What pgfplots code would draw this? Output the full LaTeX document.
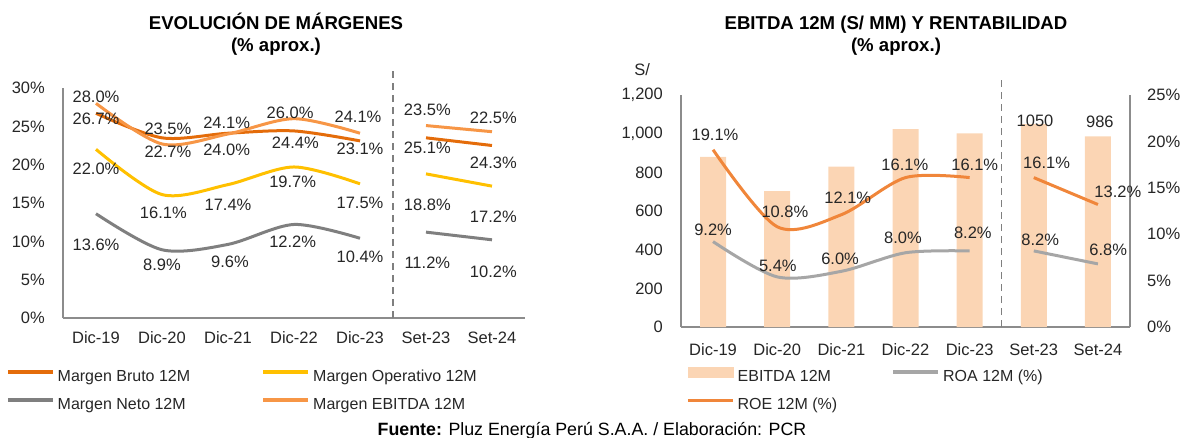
\documentclass[border=0pt]{standalone}
\usepackage{fontspec}
\setmainfont{Liberation Sans}
\usepackage{pgfplots}
\pgfplotsset{compat=1.18}
\definecolor{bruto}{HTML}{E46C0A}
\definecolor{oper}{HTML}{FFC000}
\definecolor{neto}{HTML}{7F7F7F}
\definecolor{ebit}{HTML}{F79646}
\definecolor{roe}{HTML}{F0863A}
\definecolor{roa}{HTML}{A6A6A6}
\definecolor{barc}{HTML}{FBD5B4}
\definecolor{axisgray}{HTML}{8C8C8C}
\definecolor{dashgray}{HTML}{7F7F7F}
\definecolor{txt}{HTML}{262626}
\tikzset{lab/.style={font=\fontsize{16.5}{19}\selectfont, text=txt, inner sep=0pt}}
\begin{document}
\begin{tikzpicture}
\useasboundingbox (0pt,0pt) rectangle (1186pt,437pt);
\pgfplotsset{
  base/.style={
    scale only axis, anchor=south west,
    xmin=-0.5, xmax=6.5,
    xtick={0,...,6},
    xticklabels={Dic-19,Dic-20,Dic-21,Dic-22,Dic-23,Set-23,Set-24},
    major tick length=0pt, tick style={draw=none},
    axis line style={-, draw=axisgray, line width=1.5pt},
    ticklabel style={font=\fontsize{16.5}{19}\selectfont, text=txt, inner sep=0pt},
    xticklabel style={anchor=base, yshift=-25pt},
    clip=false,
    legend cell align=left,
    legend columns=2,
    legend image code/.code={\draw[##1, line width=3.5pt] (0pt,4.5pt) -- (45pt,4.5pt);},
    /tikz/every odd column/.append style={column sep=3pt},
  },
}
% ---------------- Left chart ----------------
\begin{axis}[base, at={(63pt,119pt)}, width=462pt, height=230pt,
  ymin=0, ymax=30, ytick={0,5,...,30},
  yticklabels={0\%,5\%,10\%,15\%,20\%,25\%,30\%},
  axis x line*=bottom, axis y line*=left,
  yticklabel style={anchor=east, xshift=-18pt},
  legend style={draw=none, fill=none, at={(axis description cs:-0.1299,-0.217)}, anchor=north west,
    font=\fontsize{16}{19}\selectfont, text=txt, row sep=15pt, column sep=0pt, nodes={inner sep=0pt}},
]
\addplot[bruto, smooth, line width=3pt] coordinates {(0,26.7)(1,23.5)(2,24.1)(3,24.4)(4,23.1)};
\addlegendentry{\makebox[204pt][l]{Margen Bruto 12M}}
\addplot[oper, smooth, line width=3pt] coordinates {(0,22.0)(1,16.1)(2,17.4)(3,19.7)(4,17.5)};
\addlegendentry{Margen Operativo 12M}
\addplot[neto, smooth, line width=3pt] coordinates {(0,13.6)(1,8.9)(2,9.6)(3,12.2)(4,10.4)};
\addlegendentry{\makebox[204pt][l]{Margen Neto 12M}}
\addplot[ebit, smooth, line width=3pt] coordinates {(0,28.0)(1,22.7)(2,24.0)(3,26.0)(4,24.1)};
\addlegendentry{Margen EBITDA 12M}
\addplot[bruto, smooth, line width=3pt, forget plot] coordinates {(5,23.5)(6,22.5)};
\addplot[oper, smooth, line width=3pt, forget plot] coordinates {(5,18.8)(6,17.2)};
\addplot[neto, smooth, line width=3pt, forget plot] coordinates {(5,11.2)(6,10.2)};
\addplot[ebit, smooth, line width=3pt, forget plot] coordinates {(5,25.1)(6,24.3)};
\draw[dashgray, line width=1.5pt, dash pattern=on 7pt off 5pt] (axis cs:4.5,0) -- (axis cs:4.5,32.35);
% labels
\node[lab] at (axis cs:0,28.9) {28.0\%};
\node[lab] at (axis cs:0,26.0) {26.7\%};
\node[lab] at (axis cs:1.09,24.7) {23.5\%};
\node[lab] at (axis cs:1.09,21.7) {22.7\%};
\node[lab] at (axis cs:1.98,25.4) {24.1\%};
\node[lab] at (axis cs:1.98,21.9) {24.0\%};
\node[lab] at (axis cs:2.94,26.7) {26.0\%};
\node[lab] at (axis cs:3.02,22.8) {24.4\%};
\node[lab] at (axis cs:3.97,26.3) {24.1\%};
\node[lab] at (axis cs:4.0,22.1) {23.1\%};
\node[lab] at (axis cs:0,19.5) {22.0\%};
\node[lab] at (axis cs:1.02,13.7) {16.1\%};
\node[lab] at (axis cs:2.0,14.7) {17.4\%};
\node[lab] at (axis cs:2.98,17.8) {19.7\%};
\node[lab] at (axis cs:4.0,15.0) {17.5\%};
\node[lab] at (axis cs:0,9.5) {13.6\%};
\node[lab] at (axis cs:1.0,6.9) {8.9\%};
\node[lab] at (axis cs:2.03,7.3) {9.6\%};
\node[lab] at (axis cs:2.98,10.0) {12.2\%};
\node[lab] at (axis cs:4.0,8.0) {10.4\%};
\node[lab] at (axis cs:5.02,27.1) {23.5\%};
\node[lab] at (axis cs:5.02,22.2) {25.1\%};
\node[lab] at (axis cs:6.02,26.1) {22.5\%};
\node[lab] at (axis cs:6.02,20.2) {24.3\%};
\node[lab] at (axis cs:5.02,14.7) {18.8\%};
\node[lab] at (axis cs:6.02,13.2) {17.2\%};
\node[lab] at (axis cs:5.02,7.2) {11.2\%};
\node[lab] at (axis cs:6.02,6.0) {10.2\%};
\end{axis}
% ---------------- Right chart: bars ----------------
\begin{axis}[base, at={(681pt,110pt)}, width=449pt, height=232pt,
  ymin=0, ymax=1200, ytick={0,200,...,1200},
  yticklabels={0,200,400,600,800,{1,000},{1,200}},
  axis x line*=bottom, axis y line*=left,
  xticklabel style={yshift=-3pt},
  yticklabel style={anchor=east, xshift=-18pt},
  ybar, bar width=26pt,
]
\addplot[fill=barc, draw=none] coordinates {(0,880)(1,703)(2,829)(3,1023)(4,1002)(5,1050)(6,986)};
\node[lab] at (axis cs:-1.107,1329) {S/};
\end{axis}
% ---------------- Right chart: lines ----------------
\begin{axis}[base, at={(681pt,110pt)}, width=449pt, height=232pt,
  ymin=0, ymax=25, ytick={0,5,...,25},
  yticklabels={0\%,5\%,10\%,15\%,20\%,25\%},
  xtick=\empty,
  axis x line=none, axis y line*=right,
  yticklabel style={anchor=west, xshift=17pt},
  legend style={draw=none, fill=none, at={(axis description cs:0.0044,-0.163)}, anchor=north west,
    font=\fontsize{16}{19}\selectfont, text=txt, row sep=15pt, column sep=0pt, nodes={inner sep=0pt}},
]
\addlegendimage{legend image code/.code={\fill[barc] (0pt,-0.5pt) rectangle (45pt,9.5pt);}}
\addlegendentry{\makebox[154pt][l]{EBITDA 12M}}
\addplot[roa, smooth, line width=3pt] coordinates {(0,9.2)(1,5.4)(2,6.0)(3,8.0)(4,8.2)};
\addlegendentry{ROA 12M (\%)}
\addplot[roe, smooth, line width=3pt] coordinates {(0,19.1)(1,10.8)(2,12.1)(3,16.1)(4,16.1)};
\addlegendentry{ROE 12M (\%)}
\addplot[roa, smooth, line width=3pt, forget plot] coordinates {(5,8.2)(6,6.8)};
\addplot[roe, smooth, line width=3pt, forget plot] coordinates {(5,16.1)(6,13.2)};
\draw[dashgray, line width=1.5pt, dash pattern=on 7pt off 5pt] (axis cs:4.5,0) -- (axis cs:4.5,26.6);
\node[lab] at (axis cs:0.03,20.7) {19.1\%};
\node[lab] at (axis cs:1.12,12.4) {10.8\%};
\node[lab] at (axis cs:2.1,13.9) {12.1\%};
\node[lab] at (axis cs:0,10.45) {9.2\%};
\node[lab] at (axis cs:1.01,6.6) {5.4\%};
\node[lab] at (axis cs:1.98,7.3) {6.0\%};
\node[lab] at (axis cs:2.99,17.5) {16.1\%};
\node[lab] at (axis cs:4.08,17.5) {16.1\%};
\node[lab] at (axis cs:5.2,17.7) {16.1\%};
\node[lab] at (axis cs:6.31,14.6) {13.2\%};
\node[lab] at (axis cs:2.96,9.6) {8.0\%};
\node[lab] at (axis cs:4.05,10.1) {8.2\%};
\node[lab] at (axis cs:5.1,9.4) {8.2\%};
\node[lab] at (axis cs:6.16,8.3) {6.8\%};
\node[lab] at (axis cs:5.02,22.2) {1050};
\node[lab] at (axis cs:6.03,22.1) {986};
\end{axis}
% ---------------- Titles & footer ----------------
\node[anchor=base, font=\bfseries\fontsize{18.6}{21}\selectfont, text=black, inner sep=0pt] at (276pt,407pt) {EVOLUCIÓN DE MÁRGENES};
\node[anchor=base, font=\bfseries\fontsize{18.6}{21}\selectfont, text=black, inner sep=0pt] at (276pt,385pt) {(\% aprox.)};
\node[anchor=base, font=\bfseries\fontsize{18.6}{21}\selectfont, text=black, inner sep=0pt] at (896pt,407pt) {EBITDA 12M (S/ MM) Y RENTABILIDAD};
\node[anchor=base, font=\bfseries\fontsize{18.6}{21}\selectfont, text=black, inner sep=0pt] at (896pt,385pt) {(\% aprox.)};
\node[anchor=base, font=\fontsize{17.8}{20}\selectfont, text=black, inner sep=0pt] at (592pt,1.5pt) {\textbf{Fuente:} Pluz Energía Perú S.A.A. / Elaboración: PCR};
\end{tikzpicture}
\end{document}
